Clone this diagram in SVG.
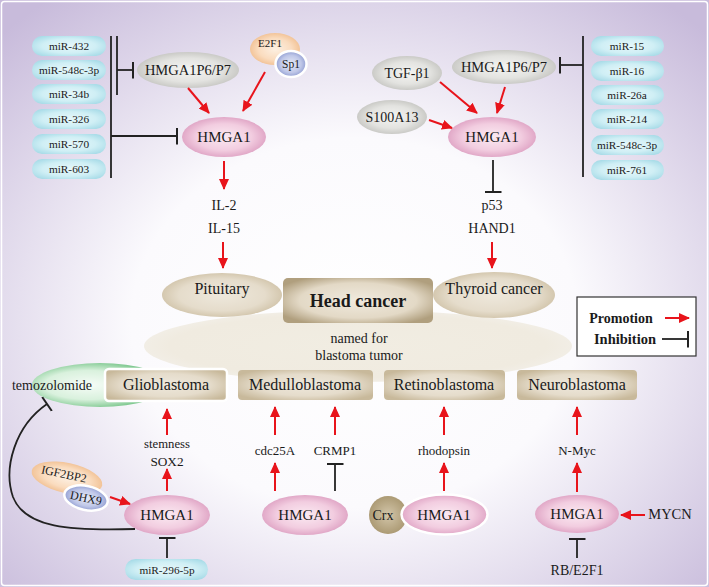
<svg xmlns="http://www.w3.org/2000/svg" width="709" height="587" viewBox="0 0 709 587" font-family="'Liberation Serif', 'Times New Roman', Times, serif">
<style>
text{font-family:'Liberation Serif','Times New Roman',Times,serif;fill:#1a1a1a;text-anchor:middle}
.mir{font-size:11.3px}
.node{font-size:14px}
.lbl{font-size:13px}
.box{font-size:16px}
.promo{stroke:#e8141b;stroke-width:2;fill:none;marker-end:url(#arr)}
.inh{stroke:#222;stroke-width:1.8;fill:none;marker-end:url(#tee)}
.ln{stroke:#222;stroke-width:1.8;fill:none}
.wb{stroke:#ffffff;stroke-width:2.5}
</style>
<defs>
<radialGradient id="bg" cx="0.5" cy="0.55" r="0.7">
<stop offset="0" stop-color="#ffffff"/><stop offset="0.45" stop-color="#fbfafd"/><stop offset="1" stop-color="#c8bbdb"/>
</radialGradient>
<radialGradient id="gMir" cx="0.5" cy="0.5" r="0.6"><stop offset="0" stop-color="#e6f7fa"/><stop offset="0.6" stop-color="#d0eff5"/><stop offset="1" stop-color="#a9dce8"/></radialGradient>
<radialGradient id="gGray" cx="0.5" cy="0.5" r="0.55"><stop offset="0" stop-color="#f4f4f2"/><stop offset="0.6" stop-color="#e3e3e0"/><stop offset="1" stop-color="#c3c3bf"/></radialGradient>
<radialGradient id="gPink" cx="0.5" cy="0.5" r="0.55"><stop offset="0" stop-color="#fbeaf2"/><stop offset="0.6" stop-color="#f2cde0"/><stop offset="1" stop-color="#dc9dc0"/></radialGradient>
<radialGradient id="gOrange" cx="0.5" cy="0.5" r="0.55"><stop offset="0" stop-color="#fdf0e2"/><stop offset="0.6" stop-color="#fadcbf"/><stop offset="1" stop-color="#f0bd8d"/></radialGradient>
<radialGradient id="gBlue" cx="0.5" cy="0.5" r="0.55"><stop offset="0" stop-color="#e6eaf7"/><stop offset="0.6" stop-color="#bfc7e8"/><stop offset="1" stop-color="#8593cc"/></radialGradient>
<radialGradient id="gTan" cx="0.5" cy="0.5" r="0.6"><stop offset="0" stop-color="#eee8dc"/><stop offset="0.6" stop-color="#e5dccb"/><stop offset="1" stop-color="#c8b99b"/></radialGradient>
<radialGradient id="gHead" cx="0.5" cy="0.5" r="0.6"><stop offset="0" stop-color="#f0eade"/><stop offset="0.65" stop-color="#e3d9c6"/><stop offset="1" stop-color="#b09f7e"/></radialGradient>
<radialGradient id="gBig" cx="0.5" cy="0.5" r="0.55"><stop offset="0" stop-color="#f1ede2"/><stop offset="0.8" stop-color="#f0ebe0"/><stop offset="1" stop-color="#f3f0ea"/></radialGradient>
<radialGradient id="gCrx" cx="0.5" cy="0.5" r="0.55"><stop offset="0" stop-color="#d3c6aa"/><stop offset="1" stop-color="#a8966f"/></radialGradient>
<radialGradient id="gGreen" cx="0.42" cy="0.5" r="0.6"><stop offset="0" stop-color="#f6fcf7"/><stop offset="0.55" stop-color="#d9f1dd"/><stop offset="1" stop-color="#62bb77"/></radialGradient>
<marker id="arr" markerUnits="userSpaceOnUse" markerWidth="11" markerHeight="10" viewBox="0 0 11 10" refX="10" refY="5" orient="auto"><path d="M0,0 L11,5 L0,10 z" fill="#e8141b"/></marker>
<marker id="tee" markerUnits="userSpaceOnUse" markerWidth="4" markerHeight="17" viewBox="0 0 4 17" refX="2" refY="8.5" orient="auto"><path d="M2,0 V17" stroke="#222" stroke-width="2"/></marker>
</defs>
<rect x="0" y="0" width="709" height="587" fill="url(#bg)"/>
<rect x="1.5" y="1.5" width="706" height="584" fill="none" stroke="#ffffff" stroke-width="1.5" rx="3"/>

<g id="blastoma-area">
<ellipse cx="358" cy="346" rx="214" ry="36" fill="url(#gBig)"/>
<text x="359" y="343" style="font-size:14px">named for</text>
<text x="359" y="360" style="font-size:14px">blastoma tumor</text>
</g>

<g id="mir-left">
<rect x="32" y="36" width="74" height="20" rx="10" fill="url(#gMir)"/><text class="mir" x="69" y="50">miR-432</text>
<rect x="32" y="60" width="74" height="20" rx="10" fill="url(#gMir)"/><text class="mir" x="69" y="74">miR-548c-3p</text>
<rect x="32" y="84" width="74" height="20" rx="10" fill="url(#gMir)"/><text class="mir" x="69" y="98">miR-34b</text>
<rect x="32" y="109" width="74" height="20" rx="10" fill="url(#gMir)"/><text class="mir" x="69" y="123">miR-326</text>
<rect x="32" y="134" width="74" height="20" rx="10" fill="url(#gMir)"/><text class="mir" x="69" y="148">miR-570</text>
<rect x="32" y="159" width="74" height="20" rx="10" fill="url(#gMir)"/><text class="mir" x="69" y="173">miR-603</text>
</g>
<g id="mir-right">
<rect x="591" y="36" width="73" height="20" rx="10" fill="url(#gMir)"/><text class="mir" x="627" y="50">miR-15</text>
<rect x="591" y="61" width="73" height="20" rx="10" fill="url(#gMir)"/><text class="mir" x="627" y="75">miR-16</text>
<rect x="591" y="85" width="73" height="20" rx="10" fill="url(#gMir)"/><text class="mir" x="627" y="99">miR-26a</text>
<rect x="591" y="109" width="73" height="20" rx="10" fill="url(#gMir)"/><text class="mir" x="627" y="123">miR-214</text>
<rect x="591" y="135" width="73" height="20" rx="10" fill="url(#gMir)"/><text class="mir" x="627" y="149">miR-548c-3p</text>
<rect x="591" y="160" width="73" height="20" rx="10" fill="url(#gMir)"/><text class="mir" x="627" y="174">miR-761</text>
</g>

<g id="hmga1p-left"><ellipse cx="188" cy="70" rx="51" ry="18" fill="url(#gGray)"/><text x="188" y="75" style="font-size:14.5px">HMGA1P6/P7</text></g>
<g id="e2f1-sp1">
<ellipse cx="275" cy="49" rx="25" ry="16" fill="url(#gOrange)"/><text x="270" y="47" style="font-size:11px">E2F1</text>
<ellipse cx="291" cy="64" rx="15.5" ry="13" fill="url(#gBlue)" class="wb"/><text x="291" y="68" style="font-size:11.5px">Sp1</text>
</g>
<g id="hmga1-left"><ellipse cx="224" cy="137" rx="42" ry="20" fill="url(#gPink)"/><text x="224" y="142" style="font-size:15px">HMGA1</text></g>

<g id="tgfb1"><ellipse cx="407" cy="73" rx="35" ry="17" fill="url(#gGray)"/><text class="node" x="407" y="78">TGF-β1</text></g>
<g id="s100a13"><ellipse cx="392" cy="117" rx="35" ry="17" fill="url(#gGray)"/><text class="node" x="392" y="122">S100A13</text></g>
<g id="hmga1p-right"><ellipse cx="504" cy="67" rx="52" ry="17" fill="url(#gGray)"/><text x="504" y="72" style="font-size:14.5px">HMGA1P6/P7</text></g>
<g id="hmga1-right"><ellipse cx="492" cy="137" rx="44" ry="20" fill="url(#gPink)"/><text x="492" y="142" style="font-size:15px">HMGA1</text></g>

<g id="il-labels"><text x="224" y="210" style="font-size:14px">IL-2</text><text x="224" y="233" style="font-size:14px">IL-15</text></g>
<g id="p53-labels"><text x="492" y="210" style="font-size:14px">p53</text><text x="492" y="233" style="font-size:14px">HAND1</text></g>

<g id="pituitary"><ellipse cx="222" cy="295" rx="60" ry="22" fill="url(#gTan)"/><text x="222" y="294" style="font-size:16px">Pituitary</text></g>
<g id="thyroid"><ellipse cx="494" cy="295" rx="61" ry="23" fill="url(#gTan)"/><text x="494" y="294" style="font-size:16px">Thyroid cancer</text></g>
<g id="head-cancer"><rect x="283" y="278" width="150" height="45" rx="5" fill="url(#gHead)"/><text x="358" y="307" style="font-size:18px;font-weight:bold">Head cancer</text></g>

<g id="legend">
<rect x="577" y="297" width="119" height="59" fill="#ffffff" stroke="#333" stroke-width="1.2"/>
<text x="621" y="323" style="font-size:14px;font-weight:bold">Promotion</text>
<line x1="665" y1="318" x2="689" y2="318" class="promo"/>
<text x="625" y="344" style="font-size:14.5px;font-weight:bold">Inhibition</text>
<line x1="662" y1="339" x2="688" y2="339" class="inh"/>
</g>

<g id="temozolomide"><ellipse cx="100" cy="385" rx="68" ry="22" fill="url(#gGreen)"/><text x="52" y="390" style="font-size:14px">temozolomide</text></g>
<g id="glioblastoma"><rect x="105" y="369" width="122" height="32" rx="4" fill="url(#gTan)" class="wb"/><text class="box" x="166" y="390">Glioblastoma</text></g>
<g id="medulloblastoma"><rect x="238" y="370" width="135" height="30" rx="4" fill="url(#gTan)"/><text class="box" x="305" y="390">Medulloblastoma</text></g>
<g id="retinoblastoma"><rect x="384" y="370" width="121" height="30" rx="4" fill="url(#gTan)"/><text class="box" x="444" y="390">Retinoblastoma</text></g>
<g id="neuroblastoma"><rect x="517" y="370" width="120" height="30" rx="4" fill="url(#gTan)"/><text class="box" x="577" y="390">Neuroblastoma</text></g>

<g id="glio-labels"><text x="167" y="448" style="font-size:12.7px">stemness</text><text x="167" y="466" style="font-size:13.3px">SOX2</text></g>
<g id="igf2bp2-dhx9">
<ellipse cx="67" cy="478" rx="36" ry="15" transform="rotate(12 67 478)" fill="url(#gOrange)"/>
<text x="64" y="478" transform="rotate(12 64 474)" style="font-size:12px">IGF2BP2</text>
<ellipse cx="86" cy="498" rx="22" ry="12" transform="rotate(12 86 498)" fill="url(#gBlue)" class="wb"/>
<text x="86" y="502" transform="rotate(12 86 498)" style="font-size:12px">DHX9</text>
</g>
<g id="hmga1-glio"><ellipse cx="167" cy="515" rx="43" ry="20" fill="url(#gPink)"/><text x="167" y="520" style="font-size:15px">HMGA1</text></g>
<g id="mir-296"><rect x="125" y="559" width="83" height="21" rx="10.5" fill="url(#gMir)"/><text class="mir" x="167" y="573.5">miR-296-5p</text></g>

<g id="medullo-labels"><text class="lbl" x="275" y="455">cdc25A</text><text class="lbl" x="335" y="455">CRMP1</text></g>
<g id="hmga1-medullo"><ellipse cx="305" cy="515" rx="43" ry="20" fill="url(#gPink)"/><text x="305" y="520" style="font-size:15px">HMGA1</text></g>

<g id="retino-labels"><text class="lbl" x="444" y="455">rhodopsin</text></g>
<g id="crx"><circle cx="388" cy="515" r="19" fill="url(#gCrx)"/><text x="383" y="520" style="font-size:14px">Crx</text></g>
<g id="hmga1-retino"><ellipse cx="444.5" cy="514.5" rx="43" ry="20" fill="url(#gPink)" class="wb"/><text x="444" y="520" style="font-size:15px">HMGA1</text></g>

<g id="neuro-labels"><text class="lbl" x="577" y="455">N-Myc</text></g>
<g id="hmga1-neuro"><ellipse cx="577" cy="514" rx="42" ry="19" fill="url(#gPink)"/><text x="577" y="519" style="font-size:15px">HMGA1</text></g>
<g id="mycn"><text x="670" y="519" style="font-size:14.5px">MYCN</text></g>
<g id="rb-e2f1"><text x="577" y="575" style="font-size:14px">RB/E2F1</text></g>

<g id="connectors">
<line class="ln" x1="117" y1="36" x2="117" y2="95"/>
<line class="inh" x1="117" y1="70" x2="133" y2="70"/>
<line class="ln" x1="111" y1="36" x2="111" y2="178"/>
<line class="inh" x1="111" y1="136" x2="177" y2="136"/>
<line class="ln" x1="583" y1="36" x2="583" y2="177"/>
<line class="inh" x1="583" y1="65" x2="560" y2="65"/>
<line class="promo" x1="188" y1="88" x2="209" y2="113"/>
<line class="promo" x1="265" y1="72" x2="243" y2="111"/>
<line class="promo" x1="224" y1="161" x2="224" y2="189"/>
<line class="promo" x1="223" y1="242" x2="223" y2="268"/>
<line class="promo" x1="440" y1="82" x2="477" y2="113"/>
<line class="promo" x1="505" y1="87" x2="497" y2="113"/>
<line class="promo" x1="429" y1="120" x2="452" y2="128"/>
<line class="inh" x1="493" y1="160" x2="493" y2="192"/>
<line class="promo" x1="492" y1="242" x2="492" y2="268"/>
<line class="promo" x1="167" y1="435" x2="167" y2="409"/>
<line class="promo" x1="167" y1="491" x2="167" y2="469"/>
<line class="inh" x1="167" y1="558" x2="167" y2="538"/>
<line class="promo" x1="110" y1="497" x2="130" y2="504"/>
<path class="inh" d="M135,529 C70,531 25,528 13,497 C3,468 15,426 47,404"/>
<line class="promo" x1="275" y1="435" x2="275" y2="407"/>
<line class="promo" x1="275" y1="491" x2="275" y2="463"/>
<line class="promo" x1="335" y1="435" x2="335" y2="407"/>
<line class="inh" x1="335" y1="491" x2="335" y2="464"/>
<line class="promo" x1="444" y1="435" x2="444" y2="407"/>
<line class="promo" x1="444" y1="491" x2="444" y2="463"/>
<line class="promo" x1="577" y1="435" x2="577" y2="407"/>
<line class="promo" x1="577" y1="492" x2="577" y2="463"/>
<line class="promo" x1="645" y1="515" x2="621" y2="515"/>
<line class="inh" x1="577" y1="558" x2="577" y2="539"/>
</g>
</svg>
